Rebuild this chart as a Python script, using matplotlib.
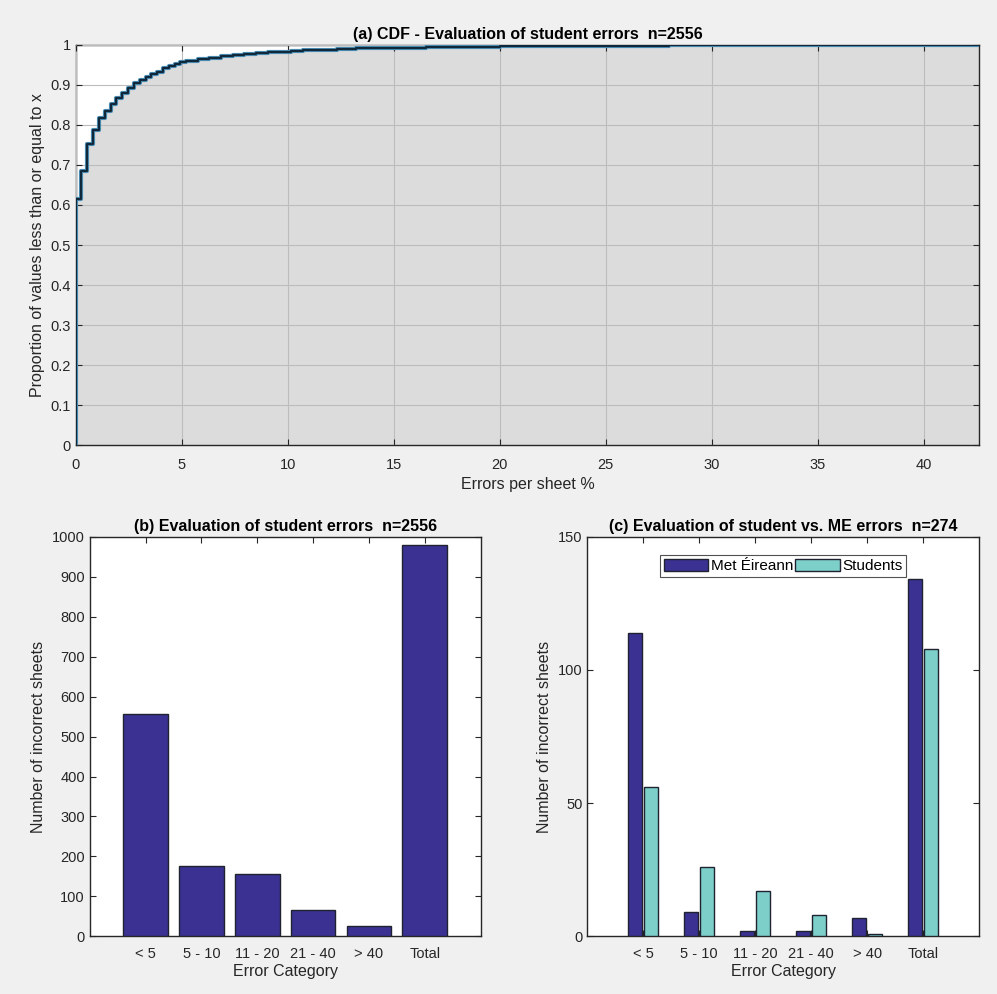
import matplotlib
matplotlib.use('Agg')
import matplotlib.pyplot as plt
import numpy as np

plt.rcParams['font.family'] = ['Liberation Sans', 'DejaVu Sans']

cdf_x = [0.0, 0.27, 0.55, 0.82, 1.09, 1.37, 1.64, 1.92, 2.19, 2.47, 2.74,
         3.01, 3.29, 3.56, 3.84, 4.11, 4.38, 4.66, 4.93, 5.21, 5.75, 6.3,
         6.85, 7.4, 7.95, 8.5, 9.05, 9.6, 10.15, 10.7, 11.5, 12.3, 13.2,
         14.0, 15.0, 16.5, 18.0, 20.0, 22.0, 25.0, 28.0, 32.0, 42.6]
cdf_y = [0.615, 0.686, 0.752, 0.788, 0.818, 0.835, 0.851, 0.867, 0.879,
         0.892, 0.904, 0.912, 0.920, 0.927, 0.933, 0.942, 0.947, 0.952,
         0.956, 0.960, 0.964, 0.968, 0.971, 0.974, 0.977, 0.979, 0.981,
         0.983, 0.985, 0.986, 0.988, 0.990, 0.991, 0.992, 0.993, 0.994,
         0.995, 0.996, 0.997, 0.998, 0.999, 0.9995, 1.0]

# (b) and (c) bar data
categories = ['< 5', '5 - 10', '11 - 20', '21 - 40', '> 40', 'Total']
student_all = [557, 176, 155, 67, 27, 980]
met_eireann = [114, 9, 2, 2, 7, 134]
students = [56, 26, 17, 8, 1, 108]

navy = '#3a3193'
teal = '#7dcfc9'
edge = '#1f2230'


def matlab_box(ax, xpad):
    ax.tick_params(direction='in', top=True, right=True, length=4,
                   labelsize=10.5, colors='#262626')
    ax.tick_params(axis='x', pad=xpad)
    for s in ax.spines.values():
        s.set_color('#262626')
        s.set_linewidth(1.0)


fig = plt.figure(figsize=(9.97, 9.94), dpi=100, facecolor='#f0f0f0')

# ---- (a) CDF ----
ax1 = fig.add_axes([0.076, 0.552, 0.906, 0.403])
ax1.set_facecolor('white')
xs = np.array([0.0] + cdf_x)
ys = np.array([0.0] + cdf_y)
ax1.fill_between(xs, ys, step='post', color='#dcdcdc', lw=0, zorder=1)
ax1.step(xs, ys, where='post', color='#4a8db5', lw=3.0, zorder=3)
ax1.step(xs, ys, where='post', color='#10283a', lw=1.5, zorder=4)
ax1.set_xlim(0, 42.6)
ax1.set_ylim(0, 1)
ax1.set_xticks(np.arange(0, 41, 5))
ax1.set_yticks(np.arange(0, 1.01, 0.1))
ax1.set_yticklabels(['0', '0.1', '0.2', '0.3', '0.4', '0.5', '0.6', '0.7',
                     '0.8', '0.9', '1'])
ax1.grid(True, color='#bcbcbc', lw=0.8, zorder=2)
ax1.set_axisbelow(False)
matlab_box(ax1, 9)
ax1.set_xlabel('Errors per sheet %', fontsize=11.5, color='#262626')
ax1.set_ylabel('Proportion of values less than or equal to x', fontsize=11.5,
               color='#262626')
ax1.set_title('(a) CDF - Evaluation of student errors  n=2556',
              fontsize=11.5, fontweight='bold', pad=4)

pos = np.arange(1, len(categories) + 1)

# ---- (b) ----
ax2 = fig.add_axes([0.090, 0.058, 0.392, 0.402])
ax2.bar(pos, student_all, width=0.8, color=navy, edgecolor=edge, lw=1.0,
        zorder=3)
ax2.set_xlim(0, 7)
ax2.set_ylim(0, 1000)
ax2.set_xticks(pos)
ax2.set_xticklabels(categories)
ax2.set_yticks(np.arange(0, 1001, 100))
matlab_box(ax2, 8)
ax2.set_xlabel('Error Category', fontsize=11.5, color='#262626', labelpad=2)
ax2.set_ylabel('Number of incorrect sheets', fontsize=11.5, color='#262626')
ax2.set_title('(b) Evaluation of student errors  n=2556',
              fontsize=11.5, fontweight='bold', pad=4)

# ---- (c) ----
ax3 = fig.add_axes([0.589, 0.058, 0.393, 0.402])
w = 0.25
ax3.bar(pos - 0.14, met_eireann, width=w, color=navy, edgecolor=edge,
        lw=1.0, label='Met Éireann', zorder=3)
ax3.bar(pos + 0.14, students, width=w, color=teal, edgecolor=edge,
        lw=1.0, label='Students', zorder=3)
ax3.set_xlim(0, 7)
ax3.set_ylim(0, 150)
ax3.set_xticks(pos)
ax3.set_xticklabels(categories)
ax3.set_yticks([0, 50, 100, 150])
matlab_box(ax3, 8)
ax3.set_xlabel('Error Category', fontsize=11.5, color='#262626', labelpad=2)
ax3.set_ylabel('Number of incorrect sheets', fontsize=11.5, color='#262626')
ax3.set_title('(c) Evaluation of student vs. ME errors  n=274',
              fontsize=11.5, fontweight='bold', pad=4)
leg = ax3.legend(loc='upper center', bbox_to_anchor=(0.5, 0.962), ncol=2,
                 fontsize=11, frameon=True, fancybox=False,
                 handlelength=2.9, handleheight=0.9, handletextpad=0.15,
                 columnspacing=0.15, borderpad=0.25, borderaxespad=0.2)
leg.get_frame().set_edgecolor('#262626')
leg.get_frame().set_linewidth(0.8)

fig.savefig('out.png', dpi=100, facecolor=fig.get_facecolor())
